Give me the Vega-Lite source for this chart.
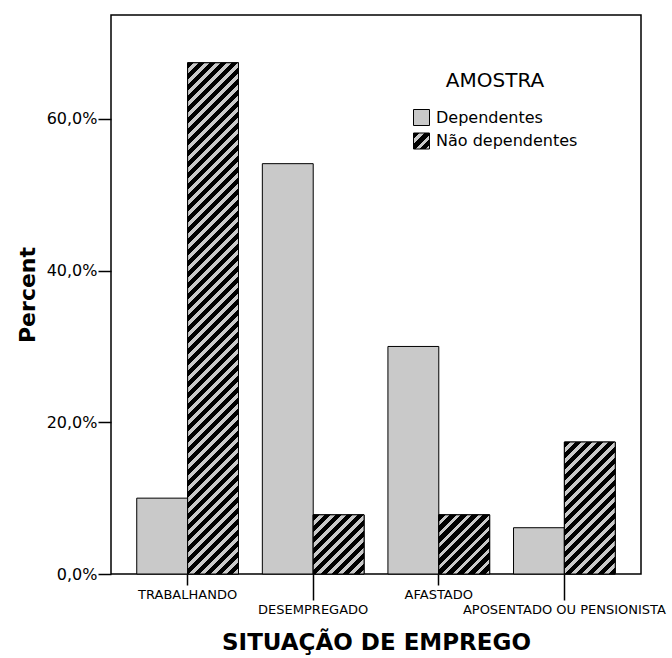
{
 "$schema": "https://vega.github.io/schema/vega-lite/v6.json",
 "width": 530,
 "height": 559,
 "autosize": "none",
 "padding": {"left": 111, "top": 15, "right": 31, "bottom": 84},
 "background": "white",
 "config": {"view": {"stroke": "#000", "strokeWidth": 1.5}, "font": "DejaVu Sans"},
 "data": {"values": [
  {"sit": "TRABALHANDO", "amostra": "Dependentes", "pct": 10.0},
  {"sit": "TRABALHANDO", "amostra": "Não dependentes", "pct": 67.4},
  {"sit": "DESEMPREGADO", "amostra": "Dependentes", "pct": 54.1},
  {"sit": "DESEMPREGADO", "amostra": "Não dependentes", "pct": 7.8},
  {"sit": "AFASTADO", "amostra": "Dependentes", "pct": 30.0},
  {"sit": "AFASTADO", "amostra": "Não dependentes", "pct": 7.8},
  {"sit": "APOSENTADO OU PENSIONISTA", "amostra": "Dependentes", "pct": 6.1},
  {"sit": "APOSENTADO OU PENSIONISTA", "amostra": "Não dependentes", "pct": 17.4}
 ]},
 "encoding": {
  "x": {"field": "sit", "type": "nominal",
   "scale": {"domain": ["TRABALHANDO", "DESEMPREGADO", "AFASTADO", "APOSENTADO OU PENSIONISTA"], "paddingInner": 0.19, "paddingOuter": 0.205},
   "axis": {"title": "SITUAÇÃO DE EMPREGO", "titleFont": "DejaVu Sans", "titleFontSize": 23, "titleFontWeight": "bold", "titleColor": "#000", "titlePadding": 15,
    "labelFont": "DejaVu Sans", "labelFontSize": 13, "labelColor": "#000", "labelAngle": 0, "labelPadding": 3, "labelBaseline": "top",
    "labelOverlap": false, "labelLimit": 0, "labelFlush": false,
    "tickColor": "#000", "tickWidth": 1.5,
    "tickSize": {"condition": {"test": "datum.value === 'DESEMPREGADO' || datum.value === 'APOSENTADO OU PENSIONISTA'", "value": 26}, "value": 11},
    "domain": false, "grid": false}},
  "xOffset": {"field": "amostra", "type": "nominal", "scale": {"domain": ["Dependentes", "Não dependentes"]}},
  "y": {"field": "pct", "type": "quantitative",
   "scale": {"domain": [0, 73.7], "nice": false},
   "axis": {"title": "Percent", "titleFont": "DejaVu Sans", "titleFontSize": 22, "titleFontWeight": "bold", "titleColor": "#000", "titlePadding": 7,
    "values": [0, 20, 40, 60], "labelExpr": "replace(format(datum.value, '.1f'), '.', ',') + '%'",
    "labelFont": "DejaVu Sans", "labelFontSize": 16, "labelColor": "#000", "labelPadding": 1,
    "tickColor": "#000", "tickWidth": 1.5, "tickSize": 13, "domain": false, "grid": false}}
 },
 "layer": [
  {"mark": {"type": "bar", "stroke": "#000", "strokeWidth": 1},
   "encoding": {"color": {"field": "amostra", "type": "nominal",
    "scale": {"domain": ["Dependentes", "Não dependentes"], "range": ["#c9c9c9", {"expr": "{gradient: 'linear', x1: 0, y1: 0, x2: 1, y2: 1, stops: [{offset: 0, color: '#000'}, {offset: 0.2031, color: '#000'}, {offset: 0.2031, color: '#c9c9c9'}, {offset: 0.3438, color: '#c9c9c9'}, {offset: 0.3438, color: '#000'}, {offset: 0.5469, color: '#000'}, {offset: 0.5469, color: '#c9c9c9'}, {offset: 0.6875, color: '#c9c9c9'}, {offset: 0.6875, color: '#000'}, {offset: 0.8906, color: '#000'}, {offset: 0.8906, color: '#c9c9c9'}, {offset: 1, color: '#c9c9c9'}]}"}]},
    "legend": {"orient": "none", "legendX": 302, "legendY": 56, "title": "AMOSTRA", "titleFont": "DejaVu Sans", "titleFontSize": 20, "titleFontWeight": "normal", "titleColor": "#000",
     "titleAnchor": "middle", "titleAlign": "center", "titlePadding": 18, "labelFont": "DejaVu Sans", "labelFontSize": 16, "labelColor": "#000", "labelOffset": 6, "labelLimit": 0,
     "symbolType": "square", "symbolSize": 256, "symbolStrokeColor": "#000", "symbolStrokeWidth": 1, "symbolOpacity": 1, "rowPadding": 2.5, "padding": 0}}}},
  {"transform": [{"filter": "datum.amostra === 'Não dependentes' && datum.sit === 'TRABALHANDO'"}],
   "mark": {"type": "bar", "stroke": "#000", "strokeWidth": 1, "fill": {"gradient": "linear", "x1": 0, "y1": 0, "x2": 0.10832, "y2": 1.08874, "stops": [
    {"offset": 0, "color": "#000"}, {"offset": 0.01156, "color": "#000"}, {"offset": 0.01156, "color": "#c9c9c9"}, {"offset": 0.01957, "color": "#c9c9c9"},
    {"offset": 0.01957, "color": "#000"}, {"offset": 0.03113, "color": "#000"}, {"offset": 0.03113, "color": "#c9c9c9"}, {"offset": 0.03914, "color": "#c9c9c9"},
    {"offset": 0.03914, "color": "#000"}, {"offset": 0.0507, "color": "#000"}, {"offset": 0.0507, "color": "#c9c9c9"}, {"offset": 0.05871, "color": "#c9c9c9"},
    {"offset": 0.05871, "color": "#000"}, {"offset": 0.07027, "color": "#000"}, {"offset": 0.07027, "color": "#c9c9c9"}, {"offset": 0.07828, "color": "#c9c9c9"},
    {"offset": 0.07828, "color": "#000"}, {"offset": 0.08984, "color": "#000"}, {"offset": 0.08984, "color": "#c9c9c9"}, {"offset": 0.09785, "color": "#c9c9c9"},
    {"offset": 0.09785, "color": "#000"}, {"offset": 0.10941, "color": "#000"}, {"offset": 0.10941, "color": "#c9c9c9"}, {"offset": 0.11742, "color": "#c9c9c9"},
    {"offset": 0.11742, "color": "#000"}, {"offset": 0.12898, "color": "#000"}, {"offset": 0.12898, "color": "#c9c9c9"}, {"offset": 0.13699, "color": "#c9c9c9"},
    {"offset": 0.13699, "color": "#000"}, {"offset": 0.14855, "color": "#000"}, {"offset": 0.14855, "color": "#c9c9c9"}, {"offset": 0.15656, "color": "#c9c9c9"},
    {"offset": 0.15656, "color": "#000"}, {"offset": 0.16812, "color": "#000"}, {"offset": 0.16812, "color": "#c9c9c9"}, {"offset": 0.17613, "color": "#c9c9c9"},
    {"offset": 0.17613, "color": "#000"}, {"offset": 0.18769, "color": "#000"}, {"offset": 0.18769, "color": "#c9c9c9"}, {"offset": 0.1957, "color": "#c9c9c9"},
    {"offset": 0.1957, "color": "#000"}, {"offset": 0.20726, "color": "#000"}, {"offset": 0.20726, "color": "#c9c9c9"}, {"offset": 0.21527, "color": "#c9c9c9"},
    {"offset": 0.21527, "color": "#000"}, {"offset": 0.22683, "color": "#000"}, {"offset": 0.22683, "color": "#c9c9c9"}, {"offset": 0.23484, "color": "#c9c9c9"},
    {"offset": 0.23484, "color": "#000"}, {"offset": 0.2464, "color": "#000"}, {"offset": 0.2464, "color": "#c9c9c9"}, {"offset": 0.25441, "color": "#c9c9c9"},
    {"offset": 0.25441, "color": "#000"}, {"offset": 0.26597, "color": "#000"}, {"offset": 0.26597, "color": "#c9c9c9"}, {"offset": 0.27398, "color": "#c9c9c9"},
    {"offset": 0.27398, "color": "#000"}, {"offset": 0.28554, "color": "#000"}, {"offset": 0.28554, "color": "#c9c9c9"}, {"offset": 0.29355, "color": "#c9c9c9"},
    {"offset": 0.29355, "color": "#000"}, {"offset": 0.30511, "color": "#000"}, {"offset": 0.30511, "color": "#c9c9c9"}, {"offset": 0.31312, "color": "#c9c9c9"},
    {"offset": 0.31312, "color": "#000"}, {"offset": 0.32468, "color": "#000"}, {"offset": 0.32468, "color": "#c9c9c9"}, {"offset": 0.33269, "color": "#c9c9c9"},
    {"offset": 0.33269, "color": "#000"}, {"offset": 0.34425, "color": "#000"}, {"offset": 0.34425, "color": "#c9c9c9"}, {"offset": 0.35226, "color": "#c9c9c9"},
    {"offset": 0.35226, "color": "#000"}, {"offset": 0.36382, "color": "#000"}, {"offset": 0.36382, "color": "#c9c9c9"}, {"offset": 0.37183, "color": "#c9c9c9"},
    {"offset": 0.37183, "color": "#000"}, {"offset": 0.38339, "color": "#000"}, {"offset": 0.38339, "color": "#c9c9c9"}, {"offset": 0.3914, "color": "#c9c9c9"},
    {"offset": 0.3914, "color": "#000"}, {"offset": 0.40296, "color": "#000"}, {"offset": 0.40296, "color": "#c9c9c9"}, {"offset": 0.41097, "color": "#c9c9c9"},
    {"offset": 0.41097, "color": "#000"}, {"offset": 0.42253, "color": "#000"}, {"offset": 0.42253, "color": "#c9c9c9"}, {"offset": 0.43054, "color": "#c9c9c9"},
    {"offset": 0.43054, "color": "#000"}, {"offset": 0.4421, "color": "#000"}, {"offset": 0.4421, "color": "#c9c9c9"}, {"offset": 0.45011, "color": "#c9c9c9"},
    {"offset": 0.45011, "color": "#000"}, {"offset": 0.46167, "color": "#000"}, {"offset": 0.46167, "color": "#c9c9c9"}, {"offset": 0.46968, "color": "#c9c9c9"},
    {"offset": 0.46968, "color": "#000"}, {"offset": 0.48124, "color": "#000"}, {"offset": 0.48124, "color": "#c9c9c9"}, {"offset": 0.48925, "color": "#c9c9c9"},
    {"offset": 0.48925, "color": "#000"}, {"offset": 0.50081, "color": "#000"}, {"offset": 0.50081, "color": "#c9c9c9"}, {"offset": 0.50882, "color": "#c9c9c9"},
    {"offset": 0.50882, "color": "#000"}, {"offset": 0.52038, "color": "#000"}, {"offset": 0.52038, "color": "#c9c9c9"}, {"offset": 0.52839, "color": "#c9c9c9"},
    {"offset": 0.52839, "color": "#000"}, {"offset": 0.53995, "color": "#000"}, {"offset": 0.53995, "color": "#c9c9c9"}, {"offset": 0.54795, "color": "#c9c9c9"},
    {"offset": 0.54795, "color": "#000"}, {"offset": 0.55951, "color": "#000"}, {"offset": 0.55951, "color": "#c9c9c9"}, {"offset": 0.56752, "color": "#c9c9c9"},
    {"offset": 0.56752, "color": "#000"}, {"offset": 0.57908, "color": "#000"}, {"offset": 0.57908, "color": "#c9c9c9"}, {"offset": 0.58709, "color": "#c9c9c9"},
    {"offset": 0.58709, "color": "#000"}, {"offset": 0.59865, "color": "#000"}, {"offset": 0.59865, "color": "#c9c9c9"}, {"offset": 0.60666, "color": "#c9c9c9"},
    {"offset": 0.60666, "color": "#000"}, {"offset": 0.61822, "color": "#000"}, {"offset": 0.61822, "color": "#c9c9c9"}, {"offset": 0.62623, "color": "#c9c9c9"},
    {"offset": 0.62623, "color": "#000"}, {"offset": 0.63779, "color": "#000"}, {"offset": 0.63779, "color": "#c9c9c9"}, {"offset": 0.6458, "color": "#c9c9c9"},
    {"offset": 0.6458, "color": "#000"}, {"offset": 0.65736, "color": "#000"}, {"offset": 0.65736, "color": "#c9c9c9"}, {"offset": 0.66537, "color": "#c9c9c9"},
    {"offset": 0.66537, "color": "#000"}, {"offset": 0.67693, "color": "#000"}, {"offset": 0.67693, "color": "#c9c9c9"}, {"offset": 0.68494, "color": "#c9c9c9"},
    {"offset": 0.68494, "color": "#000"}, {"offset": 0.6965, "color": "#000"}, {"offset": 0.6965, "color": "#c9c9c9"}, {"offset": 0.70451, "color": "#c9c9c9"},
    {"offset": 0.70451, "color": "#000"}, {"offset": 0.71607, "color": "#000"}, {"offset": 0.71607, "color": "#c9c9c9"}, {"offset": 0.72408, "color": "#c9c9c9"},
    {"offset": 0.72408, "color": "#000"}, {"offset": 0.73564, "color": "#000"}, {"offset": 0.73564, "color": "#c9c9c9"}, {"offset": 0.74365, "color": "#c9c9c9"},
    {"offset": 0.74365, "color": "#000"}, {"offset": 0.75521, "color": "#000"}, {"offset": 0.75521, "color": "#c9c9c9"}, {"offset": 0.76322, "color": "#c9c9c9"},
    {"offset": 0.76322, "color": "#000"}, {"offset": 0.77478, "color": "#000"}, {"offset": 0.77478, "color": "#c9c9c9"}, {"offset": 0.78279, "color": "#c9c9c9"},
    {"offset": 0.78279, "color": "#000"}, {"offset": 0.79435, "color": "#000"}, {"offset": 0.79435, "color": "#c9c9c9"}, {"offset": 0.80236, "color": "#c9c9c9"},
    {"offset": 0.80236, "color": "#000"}, {"offset": 0.81392, "color": "#000"}, {"offset": 0.81392, "color": "#c9c9c9"}, {"offset": 0.82193, "color": "#c9c9c9"},
    {"offset": 0.82193, "color": "#000"}, {"offset": 0.83349, "color": "#000"}, {"offset": 0.83349, "color": "#c9c9c9"}, {"offset": 0.8415, "color": "#c9c9c9"},
    {"offset": 0.8415, "color": "#000"}, {"offset": 0.85306, "color": "#000"}, {"offset": 0.85306, "color": "#c9c9c9"}, {"offset": 0.86107, "color": "#c9c9c9"},
    {"offset": 0.86107, "color": "#000"}, {"offset": 0.87263, "color": "#000"}, {"offset": 0.87263, "color": "#c9c9c9"}, {"offset": 0.88064, "color": "#c9c9c9"},
    {"offset": 0.88064, "color": "#000"}, {"offset": 0.8922, "color": "#000"}, {"offset": 0.8922, "color": "#c9c9c9"}, {"offset": 0.90021, "color": "#c9c9c9"},
    {"offset": 0.90021, "color": "#000"}, {"offset": 0.91177, "color": "#000"}, {"offset": 0.91177, "color": "#c9c9c9"}, {"offset": 0.91978, "color": "#c9c9c9"},
    {"offset": 0.91978, "color": "#000"}, {"offset": 0.93134, "color": "#000"}, {"offset": 0.93134, "color": "#c9c9c9"}, {"offset": 0.93935, "color": "#c9c9c9"},
    {"offset": 0.93935, "color": "#000"}, {"offset": 0.95091, "color": "#000"}, {"offset": 0.95091, "color": "#c9c9c9"}, {"offset": 0.95892, "color": "#c9c9c9"},
    {"offset": 0.95892, "color": "#000"}, {"offset": 0.97048, "color": "#000"}, {"offset": 0.97048, "color": "#c9c9c9"}, {"offset": 0.97849, "color": "#c9c9c9"},
    {"offset": 0.97849, "color": "#000"}, {"offset": 0.99005, "color": "#000"}, {"offset": 0.99005, "color": "#c9c9c9"}, {"offset": 0.99806, "color": "#c9c9c9"},
    {"offset": 0.99806, "color": "#000"}, {"offset": 1, "color": "#000"}]}}},
  {"transform": [{"filter": "datum.amostra === 'Não dependentes' && (datum.sit === 'DESEMPREGADO' || datum.sit === 'AFASTADO')"}],
   "mark": {"type": "bar", "stroke": "#000", "strokeWidth": 1, "fill": {"gradient": "linear", "x1": 0, "y1": 0, "x2": 0.91918, "y2": 1.06907, "stops": [
    {"offset": 0, "color": "#000"}, {"offset": 0.0591, "color": "#000"}, {"offset": 0.0591, "color": "#c9c9c9"}, {"offset": 0.1, "color": "#c9c9c9"},
    {"offset": 0.1, "color": "#000"}, {"offset": 0.1591, "color": "#000"}, {"offset": 0.1591, "color": "#c9c9c9"}, {"offset": 0.2, "color": "#c9c9c9"},
    {"offset": 0.2, "color": "#000"}, {"offset": 0.2591, "color": "#000"}, {"offset": 0.2591, "color": "#c9c9c9"}, {"offset": 0.3, "color": "#c9c9c9"},
    {"offset": 0.3, "color": "#000"}, {"offset": 0.3591, "color": "#000"}, {"offset": 0.3591, "color": "#c9c9c9"}, {"offset": 0.4, "color": "#c9c9c9"},
    {"offset": 0.4, "color": "#000"}, {"offset": 0.4591, "color": "#000"}, {"offset": 0.4591, "color": "#c9c9c9"}, {"offset": 0.5, "color": "#c9c9c9"},
    {"offset": 0.5, "color": "#000"}, {"offset": 0.5591, "color": "#000"}, {"offset": 0.5591, "color": "#c9c9c9"}, {"offset": 0.6, "color": "#c9c9c9"},
    {"offset": 0.6, "color": "#000"}, {"offset": 0.6591, "color": "#000"}, {"offset": 0.6591, "color": "#c9c9c9"}, {"offset": 0.7, "color": "#c9c9c9"},
    {"offset": 0.7, "color": "#000"}, {"offset": 0.7591, "color": "#000"}, {"offset": 0.7591, "color": "#c9c9c9"}, {"offset": 0.8, "color": "#c9c9c9"},
    {"offset": 0.8, "color": "#000"}, {"offset": 0.8591, "color": "#000"}, {"offset": 0.8591, "color": "#c9c9c9"}, {"offset": 0.9, "color": "#c9c9c9"},
    {"offset": 0.9, "color": "#000"}, {"offset": 0.9591, "color": "#000"}, {"offset": 0.9591, "color": "#c9c9c9"}, {"offset": 1, "color": "#c9c9c9"}]}}},
  {"transform": [{"filter": "datum.amostra === 'Não dependentes' && datum.sit === 'APOSENTADO OU PENSIONISTA'"}],
   "mark": {"type": "bar", "stroke": "#000", "strokeWidth": 1, "fill": {"gradient": "linear", "x1": 0, "y1": 0, "x2": 0.46487, "y2": 1.2062, "stops": [
    {"offset": 0, "color": "#000"}, {"offset": 0.03555, "color": "#000"}, {"offset": 0.03555, "color": "#c9c9c9"}, {"offset": 0.06016, "color": "#c9c9c9"},
    {"offset": 0.06016, "color": "#000"}, {"offset": 0.09571, "color": "#000"}, {"offset": 0.09571, "color": "#c9c9c9"}, {"offset": 0.12032, "color": "#c9c9c9"},
    {"offset": 0.12032, "color": "#000"}, {"offset": 0.15587, "color": "#000"}, {"offset": 0.15587, "color": "#c9c9c9"}, {"offset": 0.18049, "color": "#c9c9c9"},
    {"offset": 0.18049, "color": "#000"}, {"offset": 0.21604, "color": "#000"}, {"offset": 0.21604, "color": "#c9c9c9"}, {"offset": 0.24065, "color": "#c9c9c9"},
    {"offset": 0.24065, "color": "#000"}, {"offset": 0.2762, "color": "#000"}, {"offset": 0.2762, "color": "#c9c9c9"}, {"offset": 0.30081, "color": "#c9c9c9"},
    {"offset": 0.30081, "color": "#000"}, {"offset": 0.33636, "color": "#000"}, {"offset": 0.33636, "color": "#c9c9c9"}, {"offset": 0.36097, "color": "#c9c9c9"},
    {"offset": 0.36097, "color": "#000"}, {"offset": 0.39652, "color": "#000"}, {"offset": 0.39652, "color": "#c9c9c9"}, {"offset": 0.42113, "color": "#c9c9c9"},
    {"offset": 0.42113, "color": "#000"}, {"offset": 0.45668, "color": "#000"}, {"offset": 0.45668, "color": "#c9c9c9"}, {"offset": 0.4813, "color": "#c9c9c9"},
    {"offset": 0.4813, "color": "#000"}, {"offset": 0.51685, "color": "#000"}, {"offset": 0.51685, "color": "#c9c9c9"}, {"offset": 0.54146, "color": "#c9c9c9"},
    {"offset": 0.54146, "color": "#000"}, {"offset": 0.57701, "color": "#000"}, {"offset": 0.57701, "color": "#c9c9c9"}, {"offset": 0.60162, "color": "#c9c9c9"},
    {"offset": 0.60162, "color": "#000"}, {"offset": 0.63717, "color": "#000"}, {"offset": 0.63717, "color": "#c9c9c9"}, {"offset": 0.66178, "color": "#c9c9c9"},
    {"offset": 0.66178, "color": "#000"}, {"offset": 0.69733, "color": "#000"}, {"offset": 0.69733, "color": "#c9c9c9"}, {"offset": 0.72194, "color": "#c9c9c9"},
    {"offset": 0.72194, "color": "#000"}, {"offset": 0.75749, "color": "#000"}, {"offset": 0.75749, "color": "#c9c9c9"}, {"offset": 0.78211, "color": "#c9c9c9"},
    {"offset": 0.78211, "color": "#000"}, {"offset": 0.81766, "color": "#000"}, {"offset": 0.81766, "color": "#c9c9c9"}, {"offset": 0.84227, "color": "#c9c9c9"},
    {"offset": 0.84227, "color": "#000"}, {"offset": 0.87782, "color": "#000"}, {"offset": 0.87782, "color": "#c9c9c9"}, {"offset": 0.90243, "color": "#c9c9c9"},
    {"offset": 0.90243, "color": "#000"}, {"offset": 0.93798, "color": "#000"}, {"offset": 0.93798, "color": "#c9c9c9"}, {"offset": 0.96259, "color": "#c9c9c9"},
    {"offset": 0.96259, "color": "#000"}, {"offset": 0.99814, "color": "#000"}, {"offset": 0.99814, "color": "#c9c9c9"}, {"offset": 1, "color": "#c9c9c9"}]}}}
 ]
}
